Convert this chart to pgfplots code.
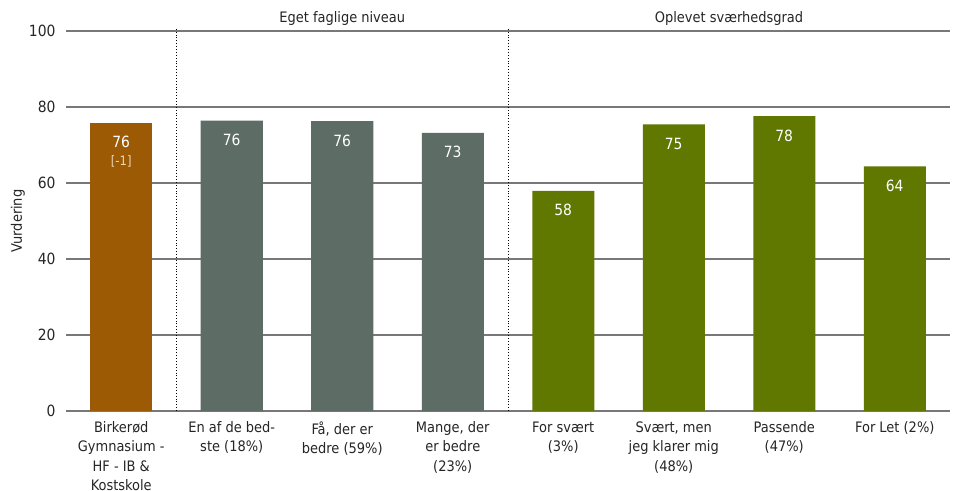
\documentclass[border=0pt]{standalone}
\usepackage{fontspec}
\setmainfont{DejaVu Sans Condensed}
\usepackage{pgfplots}
\pgfplotsset{compat=1.18}
\definecolor{cOrange}{HTML}{9C5A05}
\definecolor{cGray}{HTML}{5E6C66}
\definecolor{cGreen}{HTML}{607800}
\definecolor{cGrid}{HTML}{787878}
\definecolor{cMinus}{HTML}{EAD5B2}
\begin{document}
\begin{tikzpicture}
\fill[white] (0,0) rectangle (953bp,491bp);
\begin{axis}[
  at={(66bp,80bp)}, anchor=south west,
  scale only axis, width=884bp, height=380bp,
  xmin=-0.5, xmax=7.5, ymin=0, ymax=100,
  ybar, bar width=62bp, bar shift=0pt,
  ytick={0,20,...,100},
  ymajorgrids, grid style={color=cGrid, line width=1.1pt},
  axis line style={draw=none},
  major tick length=0pt,
  xtick={0,...,7},
  xticklabels={{Birkerød\\Gymnasium -\\HF - IB \&\\Kostskole},
    {En af de bed-\\ste (18\%)},
    {Få, der er\\bedre (59\%)},
    {Mange, der\\er bedre\\(23\%)},
    {For svært\\(3\%)},
    {Svært, men\\jeg klarer mig\\(48\%)},
    {Passende\\(47\%)},
    {For Let (2\%)}},
  xticklabel style={align=center, font=\fontsize{14.5}{19.5}\selectfont, text=black!85, yshift=-7bp},
  yticklabel style={font=\fontsize{15.5}{18}\selectfont, text=black!85, xshift=-7bp},
  /pgf/number format/assume math mode=true,
  clip=false,
  nodes near coords={\pgfmathprintnumber[fixed,precision=0]{\pgfplotspointmeta}},
  every node near coord/.append style={anchor=north, yshift=-10bp, font=\fontsize{15.5}{18}\selectfont, text=white},
]
\addplot[fill=cOrange, draw=none,
  nodes near coords={\pgfmathprintnumber[fixed,precision=0]{\pgfplotspointmeta}\\{\fontsize{13}{16}\selectfont\color{cMinus}[-1]}},
  every node near coord/.append style={align=center}]
  coordinates {(0,75.8)};
\addplot[fill=cGray, draw=none] coordinates {(1,76.4) (2,76.3) (3,73.2)};
\addplot[fill=cGreen, draw=none] coordinates {(4,57.9) (5,75.4) (6,77.6) (7,64.4)};
\draw[dotted, black, line width=0.9pt] (axis cs:0.5,0) -- (axis cs:0.5,101);
\draw[dotted, black, line width=0.9pt] (axis cs:3.5,0) -- (axis cs:3.5,101);
\node[font=\fontsize{14.5}{18}\selectfont, text=black!85] at (axis cs:2,103.3) {Eget faglige niveau};
\node[font=\fontsize{14.5}{18}\selectfont, text=black!85] at (axis cs:5.5,103.3) {Oplevet sværhedsgrad};
\end{axis}
\node[rotate=90, font=\fontsize{14.5}{17}\selectfont, text=black!85] at (18bp,270bp) {Vurdering};
\pgfresetboundingbox
\path[use as bounding box] (0,0) rectangle (953bp,491bp);
\end{tikzpicture}
\end{document}
